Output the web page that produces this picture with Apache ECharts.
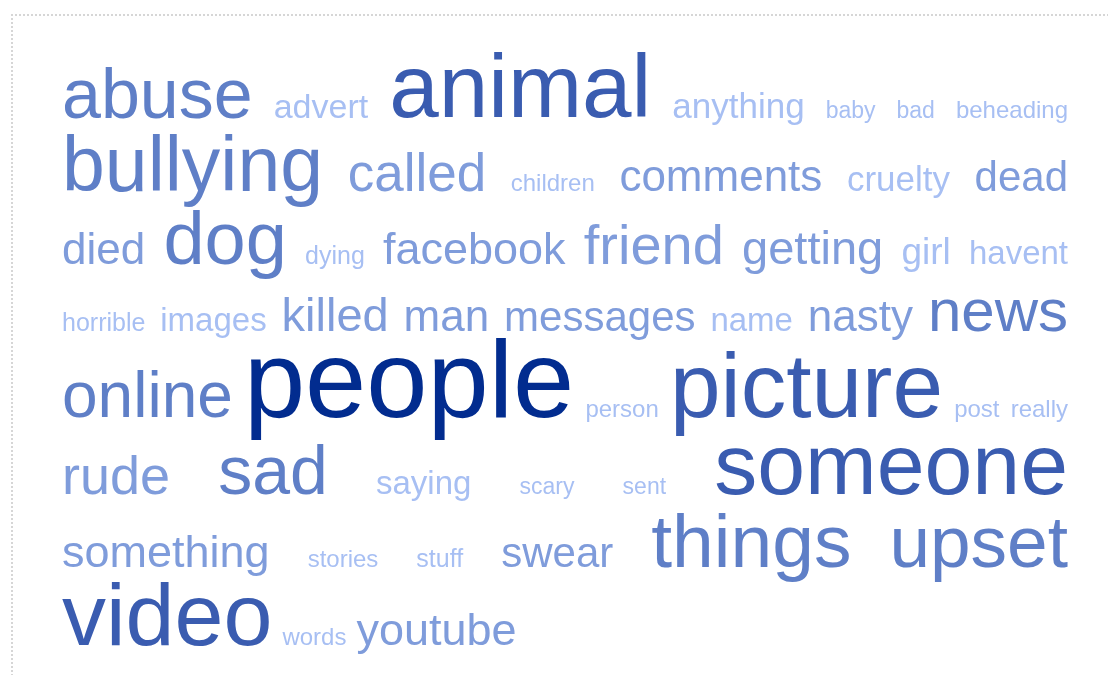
<!DOCTYPE html>
<html><head><meta charset="utf-8">
<script src="https://cdn.jsdelivr.net/npm/echarts@6/dist/echarts.min.js"></script>
<style>
html,body{margin:0;padding:0;background:#fff;overflow:hidden;}
#topline{position:absolute;left:11px;top:14px;width:1097px;height:2px;
  background:repeating-linear-gradient(to right,#d6d6d6 0 2px,transparent 2px 4px);}
#leftline{position:absolute;left:11px;top:14px;width:2px;height:661px;
  background:repeating-linear-gradient(to bottom,#d6d6d6 0 2px,transparent 2px 4px);}
#chart{position:absolute;left:0;top:0;width:1108px;height:675px;}
</style></head><body>
<div id="topline"></div><div id="leftline"></div><div id="chart"></div>
<script>
// Words of the cloud, alphabetical order
const words = ["abuse","advert","animal","anything","baby","bad","beheading",
  "bullying","called","children","comments","cruelty","dead",
  "died","dog","dying","facebook","friend","getting","girl","havent",
  "horrible","images","killed","man","messages","name","nasty","news",
  "online","people","person","picture","post","really",
  "rude","sad","saying","scary","sent","someone",
  "something","stories","stuff","swear","things","upset",
  "video","words","youtube"];
// Relative weight of each word (drives text size and shade)
const weights = [70,34,89,35,23,23,24,
  77,53,24,44,35,42,
  44,74,25,45,56,47,37,33,
  25,33,47,44,42,33,44,60,
  64,110,24,91,24,24,
  54,68,33,23,23,86,
  45,24,25,42,75,73,
  88,24,45];
// shade tiers (minimum weight -> colour)
const tierMin = [100, 80, 58, 40, 0];
const tierColor = ["#022c8f", "#3a5cb0", "#5f7fc7", "#7f9cdb", "#a7bff3"];

const FONT = '"Liberation Sans", Arial, sans-serif';
const LEFT = 62, RIGHT = 1068, TOP0 = 84, LINE_GAP = 44.4, ASC = 0.38, MIN_GAP = 10;

const cv = document.createElement('canvas');
const ctx = cv.getContext('2d');
function measure(text, size) {
  ctx.font = size + 'px ' + FONT;
  ctx.textBaseline = 'alphabetic';
  return ctx.measureText(text).width;
}
function midOffset(size) {
  ctx.font = size + 'px ' + FONT;
  ctx.textBaseline = 'middle';
  const m = ctx.measureText('H');
  ctx.textBaseline = 'alphabetic';
  return m.actualBoundingBoxDescent; // distance from middle line down to baseline
}
function colorOf(w) {
  for (let i = 0; i < tierMin.length; i++) if (w >= tierMin[i]) return tierColor[i];
  return tierColor[tierColor.length - 1];
}

// flow layout: greedy lines, justified except the last
const widths = words.map((t, i) => measure(t, weights[i]));
const lines = [];
let cur = [], curW = 0;
words.forEach((t, i) => {
  const add = cur.length ? MIN_GAP + widths[i] : widths[i];
  if (cur.length && curW + add > RIGHT - LEFT) { lines.push(cur); cur = [i]; curW = widths[i]; }
  else { cur.push(i); curW += add; }
});
if (cur.length) lines.push(cur);

const items = [];
let baseline = TOP0;
lines.forEach((ln, li) => {
  const maxW = Math.max(...ln.map(i => weights[i]));
  baseline += (li === 0 ? 0 : LINE_GAP) + ASC * maxW;
  const sum = ln.reduce((s, i) => s + widths[i], 0);
  const last = li === lines.length - 1;
  const gap = (last || ln.length < 2) ? MIN_GAP : (RIGHT - LEFT - sum) / (ln.length - 1);
  let x = LEFT;
  ln.forEach(i => {
    items.push([x, baseline, i]);
    x += widths[i] + gap;
  });
});

const chart = echarts.init(document.getElementById('chart'), null, {renderer: 'canvas'});
chart.setOption({
  animation: false,
  backgroundColor: 'transparent',
  grid: {left: 0, right: 0, top: 0, bottom: 0},
  xAxis: {type: 'value', min: 0, max: 1108, show: false},
  yAxis: {type: 'value', min: 0, max: 675, inverse: true, show: false},
  series: [{
    type: 'custom',
    data: items,
    renderItem: function (params, api) {
      const i = api.value(2);
      const size = weights[i];
      const pt = api.coord([api.value(0), api.value(1)]);
      return {
        type: 'text',
        x: pt[0],
        y: pt[1] - midOffset(size),
        style: {
          text: words[i],
          font: size + 'px ' + FONT,
          fill: colorOf(size),
          align: 'left',
          verticalAlign: 'middle'
        }
      };
    }
  }]
});
</script>
</body></html>
